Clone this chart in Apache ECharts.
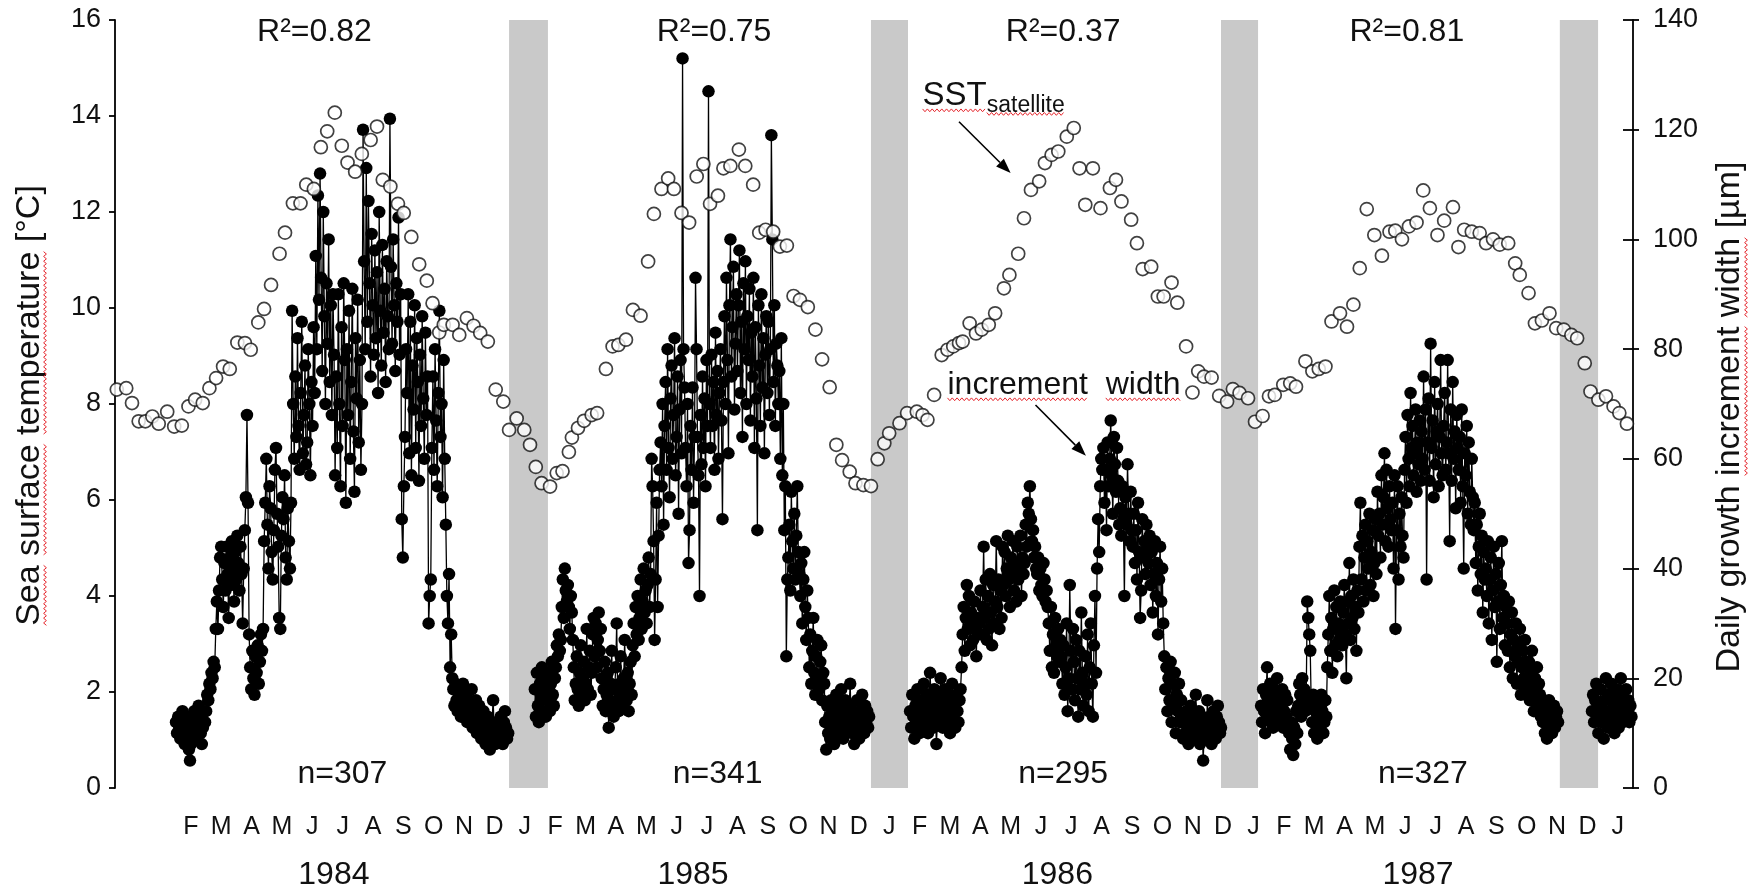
<!DOCTYPE html>
<html><head><meta charset="utf-8">
<script src="https://cdn.jsdelivr.net/npm/echarts@6/dist/echarts.min.js"></script>
<style>html,body{margin:0;padding:0;background:#fff}#c{width:1758px;height:894px}</style>
</head><body><div id="c"></div>
<script>
// ---------- DATA ----------
const monthLetters = ['J','F','M','A','M','J','J','A','S','O','N','D'];
const yearLabels = ['1984','1985','1986','1987'];
const yearCenters = [5.71, 17.54, 29.54, 41.42];          // months since Jan 1984
const r2Labels = ['R²=0.82','R²=0.75','R²=0.37','R²=0.81'];
const r2Centers = [5.07, 18.23, 29.73, 41.05];
const nLabels = ['n=307','n=341','n=295','n=327'];
const nCenters = [5.99, 18.35, 29.73, 41.58];
const bandRanges = [[11.48,12.76],[23.40,24.62],[34.93,36.15],[46.09,47.35]];

// satellite SST (°C) — time in months since 1 Jan 1984
const sstTime = [-1.44,-1.13,-0.94,-0.72,-0.50,-0.27,-0.06,0.22,0.45,0.70,0.92,1.14,1.39,1.61,1.83,2.06,2.28,2.53,2.78,2.97,3.22,3.41,3.64,3.92,4.10,4.36,4.61,4.80,5.05,5.28,5.49,5.74,5.97,6.16,6.41,6.63,6.92,7.13,7.32,7.57,7.82,8.01,8.26,8.52,8.77,8.96,9.18,9.33,9.62,9.84,10.09,10.31,10.53,10.78,11.04,11.29,11.48,11.73,11.98,12.17,
12.36,12.55,12.83,13.05,13.24,13.45,13.55,13.75,13.95,14.20,14.38,14.67,14.89,15.08,15.33,15.56,15.81,16.06,16.25,16.50,16.72,16.91,17.16,17.41,17.66,17.88,18.10,18.36,18.54,18.77,19.05,19.26,19.52,19.72,19.93,20.18,20.40,20.63,20.85,21.06,21.32,21.57,21.79,22.04,22.26,22.45,22.70,22.89,23.15,23.40,23.62,23.84,
24.00,24.34,24.59,24.91,25.10,25.26,25.48,25.73,25.92,26.11,26.30,26.42,26.65,26.86,27.05,27.28,27.49,27.78,27.96,28.25,28.44,28.67,28.94,29.13,29.35,29.57,29.85,30.08,30.27,30.46,30.71,30.96,31.27,31.47,31.65,31.97,32.16,32.35,32.63,32.85,33.04,33.30,33.49,33.78,33.99,34.18,34.37,34.62,34.87,35.13,35.32,35.54,35.82,
36.05,36.30,36.51,36.70,36.98,37.21,37.40,37.71,37.94,38.15,38.37,38.57,38.85,39.08,39.29,39.50,39.73,39.98,40.23,40.48,40.67,40.89,41.12,41.37,41.59,41.81,42.06,42.28,42.57,42.75,42.94,43.19,43.45,43.66,43.89,44.11,44.39,44.62,44.77,45.06,45.27,45.50,45.75,45.97,46.22,46.47,46.66,46.91,47.10,47.36,47.61,47.86,48.05,48.30];
const sstTemp = [8.30,8.33,8.02,7.64,7.64,7.74,7.59,7.84,7.53,7.55,7.95,8.09,8.02,8.33,8.54,8.78,8.73,9.28,9.27,9.13,9.70,9.98,10.48,11.13,11.57,12.18,12.18,12.57,12.48,13.35,13.68,14.07,13.38,13.03,12.84,13.21,13.50,13.78,12.67,12.53,12.17,11.98,11.48,10.91,10.57,10.10,9.49,9.65,9.65,9.44,9.79,9.63,9.48,9.30,8.30,8.05,7.46,7.70,7.46,7.15,
6.69,6.35,6.28,6.56,6.60,7.00,7.30,7.50,7.65,7.77,7.81,8.73,9.20,9.23,9.34,9.96,9.84,10.97,11.96,12.48,12.70,12.48,11.98,11.78,12.74,13.00,12.17,12.34,12.91,12.96,13.30,12.96,12.57,11.57,11.63,11.59,11.28,11.30,10.25,10.17,10.02,9.55,8.93,8.35,7.15,6.83,6.59,6.35,6.31,6.29,6.85,7.18,
7.39,7.60,7.81,7.84,7.77,7.67,8.19,9.02,9.13,9.20,9.27,9.30,9.68,9.47,9.55,9.65,9.89,10.41,10.69,11.13,11.87,12.46,12.64,13.02,13.19,13.26,13.57,13.75,12.91,12.15,12.91,12.08,12.50,12.67,12.22,11.84,11.35,10.81,10.86,10.24,10.24,10.53,10.11,9.20,8.24,8.68,8.57,8.55,8.17,8.05,8.31,8.23,8.12,
7.63,7.75,8.16,8.19,8.40,8.43,8.36,8.89,8.68,8.73,8.78,9.72,9.89,9.61,10.07,10.83,12.06,11.52,11.09,11.59,11.61,11.43,11.70,11.78,12.45,12.08,11.52,11.82,12.10,11.27,11.63,11.59,11.56,11.35,11.43,11.32,11.35,10.93,10.69,10.31,9.68,9.74,9.89,9.58,9.55,9.44,9.37,8.85,8.26,8.09,8.16,7.95,7.81,7.59];

// daily growth increment widths (µm), one segment per shell growth year
const incrSpans = [[0.51,11.45],[12.33,23.34],[24.69,34.93],[36.25,46.03],[47.15,48.45]];
const incr1984 = [12,10,13,11,9,12,14,10,8,11,13,9,7,5,8,10,12,14,11,9,13,15,12,10,8,11,14,12,
14,17,16,19,18,21,20,23,22,
29,34,29,36,42,44,
38,33,41,36,44,39,31,42,37,45,40,34,43,38,46,41,36,44,39,30,40,
47,53,68,52,
28,22,18,25,20,17,24,21,26,19,23,28,25,29,
45,52,60,48,40,55,51,43,38,47,58,62,50,44,31,29,46,53,49,57,42,38,51,45,40,52,
87,
70,60,75,64,82,66,58,72,85,61,68,77,59,63,80,70,57,74,66,
84,72,97,80,108,89,112,93,76,105,86,70,92,81,100,74,88,68,90,79,
57,75,62,90,70,55,84,66,92,78,52,80,68,87,60,74,91,65,54,82,71,89,63,78,58,70,
120,
96,80,113,85,107,92,75,101,88,79,98,82,94,72,105,87,77,99,83,91,74,96,86,80,
122,
95,81,100,88,76,92,85,104,79,90,
49,42,55,
64,80,72,90,61,85,57,77,69,88,62,82,74,56,79,66,86,71,60,83,68,75,
30,35,38,
62,75,58,80,67,55,72,87,64,70,53,78,60,
48,35,30,39,22,28,20,
18,15,19,16,14,18,17,13,16,19,15,
14,17,12,16,13,15,18,11,14,12,16,10,13,15,11,9,12,14,10,8,11,13,9,7,10,12,16,11,8,10,12,9,11,13,10,8,12,14,11,9,10];
const incr1985 = [18,13,21,15,12,19,16,22,14,17,20,13,16,21,18,14,19,23,17,15,20,
22,26,24,28,25,27,
33,38,31,40,36,34,37,33,29,35,32,27,
22,16,19,24,18,15,21,26,17,20,23,16,19,29,18,22,25,17,21,
28,31,24,30,22,27,32,25,29,
20,15,18,23,14,17,21,11,16,19,25,15,13,18,22,30,16,14,19,24,17,15,20,27,18,16,21,14,19,23,17,
26,30,24,33,28,35,27,31,38,29,34,40,32,36,30,37,42,33,39,
60,55,45,27,38,52,33,46,58,
63,55,70,48,66,74,58,80,62,53,71,77,60,68,82,57,64,75,50,69,78,61,
133,80,73,
62,55,70,41,47,66,58,73,52,64,
93,80,
64,57,35,68,59,75,62,71,55,78,66,
127,
70,62,79,66,74,58,83,68,76,60,72,80,67,
49,74,86,70,93,78,61,88,100,75,84,95,69,81,90,
76,88,98,72,85,64,92,80,96,70,86,78,91,67,83,
75,93,62,84,71,47,88,77,66,90,73,82,61,79,86,
72,85,68,80,119,100,74,88,66,81,77,70,
76,60,82,57,70,47,55,24,38,
42,48,36,54,45,40,50,38,46,55,43,39,
35,41,30,38,43,33,27,36,31,
22,28,19,25,31,21,17,24,27,20,18,23,26,16,21,19,
12,7,15,10,13,9,16,11,14,8,12,17,10,13,15,11,18,14,9,12,16,10,13,11,15,19,12,10,14,8,11,13,16,12,9,14,11,17,13,10,15,12,14,11,13];
const incr1986 = [14,11,17,13,9,15,12,18,14,10,16,13,11,19,15,12,17,10,14,21,16,13,11,18,15,8,12,17,14,20,16,11,13,18,15,12,17,14,10,16,19,13,15,11,17,14,12,16,18,
22,28,33,25,31,37,29,35,26,32,30,27,34,29,24,31,28,
30,36,28,33,44,31,38,27,35,29,39,32,26,37,30,34,45,33,38,29,36,31,44,
37,43,35,40,46,38,33,42,39,45,36,41,34,44,38,40,46,35,42,39,
41,48,44,52,50,55,49,45,47,42,44,40,
39,42,36,40,37,35,41,38,34,36,33,
30,25,33,22,28,21,31,26,24,29,23,27,
24,19,26,17,22,30,14,20,37,25,18,29,
23,16,27,20,13,25,18,32,21,15,19,
24,17,28,14,22,30,19,13,26,35,21,40,
49,43,55,60,58,62,
52,58,47,63,55,60,67,57,50,64,59,54,62,56,48,
51,46,55,49,35,53,48,59,50,45,54,47,
44,50,41,47,38,52,43,31,36,49,42,45,39,48,44,
41,46,37,43,32,39,45,35,41,28,38,44,34,40,30,
24,18,22,14,20,16,23,12,19,15,21,10,17,14,19,12,16,
12,9,13,10,14,11,8,12,15,10,13,9,11,17,12,10,14,8,11,13,5,10,12,9,16,11,13,10,8,12,14,11,9,13,15,12,10,11];
const incr1987 = [15,12,18,14,10,17,22,13,16,19,12,15,11,18,14,17,20,13,16,12,15,18,11,14,17,13,16,12,
10,7,12,9,6,11,8,14,10,
15,19,17,13,20,16,18,14,17,
34,31,28,25,
15,12,17,10,14,16,9,13,15,11,17,14,10,12,16,13,
22,28,35,25,31,21,29,36,26,33,24,30,27,34,29,
26,32,37,28,20,34,30,41,27,35,31,38,29,33,25,36,32,
44,52,38,46,34,42,48,36,45,40,50,37,43,47,35,41,49,39,
54,46,50,42,57,48,53,61,45,58,51,44,55,49,47,
52,40,57,29,47,55,38,50,44,53,46,42,
58,64,52,68,60,55,72,62,66,57,61,69,54,63,59,67,56,65,
60,75,58,69,38,63,71,56,81,62,67,53,74,59,65,70,55,64,78,61,57,
66,72,58,63,78,61,45,69,56,74,60,65,51,68,62,
58,64,52,69,55,40,61,57,66,50,63,54,48,60,53,
47,52,41,48,36,44,50,39,46,32,43,38,
40,35,45,30,38,42,27,36,44,33,39,23,34,41,29,37,45,31,35,26,33,
30,25,34,22,28,32,20,27,24,30,19,26,23,29,17,22,25,20,27,18,23,
19,23,16,21,25,17,14,20,18,22,15,19,17,13,16,
12,15,10,14,9,13,16,11,14,10,12,15,11,13,14,12];
const incr1988 = [14,17,12,16,19,13,10,15,18,12,14,9,16,20,13,11,17,14,19,12,15,10,13,18,16,11,14,20,17,12,15,13,18,14,16,12,15,13];
const incrSegments = [incr1984, incr1985, incr1986, incr1987, incr1988];

// annotation anchors (months, °C)
const annSST = [25.10, 14.41], annSat = 14.21, annIncr = [25.92, 8.39];
const arrowSST = [[26.30,13.88],[28.00,12.81]];
const arrowIncr = [[28.82,7.98],[30.48,6.92]];

// ---------- CHART ----------
const FONT = "'Liberation Sans', Arial, Helvetica, sans-serif";
const INK = '#111';
const chart = echarts.init(document.getElementById('c'), null, {renderer: 'canvas'});

function segData(vals, span) {
  const n = vals.length;
  return vals.map((v, i) => [span[0] + i * (span[1] - span[0]) / (n - 1), v]);
}

const incrSeries = incrSegments.map((vals, k) => ({
  type: 'line', yAxisIndex: 1, z: 3,
  data: segData(vals, incrSpans[k]),
  symbol: 'circle', symbolSize: 12.5, showAllSymbol: true,
  lineStyle: {color: '#000', width: 1.3},
  itemStyle: {color: '#000'},
  animation: false, silent: true
}));

const option = {
  animation: false,
  grid: {left: 115, right: 125, top: 20, bottom: 106, containLabel: false},
  xAxis: {
    type: 'value', min: -1.5, max: 48.5, interval: 0.5,
    axisLine: {show: false, onZero: false}, axisTick: {show: false}, splitLine: {show: false},
    axisLabel: {
      margin: 27, fontSize: 25, color: INK, fontFamily: FONT,
      formatter: function (v) {
        const r = Math.round(v);
        if (Math.abs(v - r) > 1e-6 || r < 1 || r > 48) return '';
        return monthLetters[((r % 12) + 12) % 12];
      }
    }
  },
  yAxis: [
    {type: 'value', position: 'left', min: 0, max: 16, interval: 2,
     axisLine: {show: true, onZero: false, lineStyle: {color: '#000', width: 1.8}},
     axisTick: {show: true, length: 6, lineStyle: {color: '#000', width: 1.8}},
     axisLabel: {margin: 14, fontSize: 27, color: INK, fontFamily: FONT},
     splitLine: {show: false}},
    {type: 'value', position: 'right', min: 0, max: 140, interval: 20,
     axisLine: {show: true, onZero: false, lineStyle: {color: '#000', width: 1.8}},
     axisTick: {show: true, length: 6, lineStyle: {color: '#000', width: 1.8}},
     axisLabel: {margin: 20, fontSize: 27, color: INK, fontFamily: FONT},
     splitLine: {show: false}},
    {type: 'value', position: 'right', min: 0, max: 140, interval: 20,
     axisLine: {show: false, onZero: false},
     axisTick: {show: true, inside: true, length: 10, lineStyle: {color: '#000', width: 1.8}},
     axisLabel: {show: false}, splitLine: {show: false}}
  ],
  series: [
    {type: 'line', data: [], z: 1, silent: true,
     markArea: {silent: true, itemStyle: {color: '#c9c9c9'},
       data: bandRanges.map(b => [{xAxis: b[0], yAxis: 0}, {xAxis: b[1], yAxis: 16}])}},
    ...incrSeries,
    {type: 'scatter', yAxisIndex: 0, z: 4, silent: true,
     data: sstTime.map((t, i) => [t, sstTemp[i]]),
     symbol: 'circle', symbolSize: 13,
     itemStyle: {color: '#fff', borderColor: '#111', borderWidth: 1.7}}
  ]
};
chart.setOption(option);

// ---------- ANNOTATIONS ----------
const mctx = document.createElement('canvas').getContext('2d');
function tw(str, size) { mctx.font = size + 'px ' + FONT; return mctx.measureText(str).width; }
function P(x, y) { return chart.convertToPixel({xAxisIndex: 0, yAxisIndex: 0}, [x, y]); }
const RED = '#e5262d';
function zigH(x0, x1, y) {
  const pts = []; let up = true;
  for (let x = x0; x <= x1; x += 2.4) { pts.push([x, y + (up ? -1.4 : 1.4)]); up = !up; }
  return {type: 'polyline', shape: {points: pts}, style: {stroke: RED, lineWidth: 1, fill: null}, silent: true, z: 20};
}
function zigV(y0, y1, x) {
  const pts = []; let up = true;
  for (let y = y0; y <= y1; y += 2.4) { pts.push([x + (up ? -1.4 : 1.4), y]); up = !up; }
  return {type: 'polyline', shape: {points: pts}, style: {stroke: RED, lineWidth: 1, fill: null}, silent: true, z: 20};
}
function txt(str, x, y, size, align, rot) {
  return {type: 'text', x: x, y: y, rotation: rot || 0, z: 20, silent: true,
    style: {text: str, fontSize: size, fontFamily: FONT, fill: INK, align: align || 'center', verticalAlign: 'middle'}};
}
function arrow(a, b) {
  const p = P(a[0], a[1]), q = P(b[0], b[1]);
  const dx = q[0] - p[0], dy = q[1] - p[1], L = Math.hypot(dx, dy);
  const ux = dx / L, uy = dy / L, hl = 15, hw = 5.5;
  const bx = q[0] - ux * hl, by = q[1] - uy * hl;
  return [
    {type: 'line', shape: {x1: p[0], y1: p[1], x2: bx, y2: by}, style: {stroke: '#000', lineWidth: 1.6}, z: 20, silent: true},
    {type: 'polygon', shape: {points: [[q[0], q[1]], [bx - uy * hw, by + ux * hw], [bx + uy * hw, by - ux * hw]]},
     style: {fill: '#000'}, z: 20, silent: true}
  ];
}
// rotated title with spell-check squiggles under chosen words
function vTitle(words, marked, cx, cy, size, sq) {
  const full = words.join(' ');
  const L = tw(full, size);
  const els = [txt(full, cx, cy, size, 'center', Math.PI / 2)];
  const yBottom = cy + L / 2;
  words.forEach((w, k) => {
    if (!marked[k]) return;
    const off = k === 0 ? 0 : tw(words.slice(0, k).join(' ') + ' ', size);
    const ww = tw(w, size);
    els.push(zigV(yBottom - off - ww, yBottom - off, cx + sq));
  });
  return els;
}

function buildGraphics() {
  const g = [];
  const axL = P(-1.5, 0)[0], axR = P(48.5, 0)[0];
  const midY = P(0, 8)[1];
  g.push(...vTitle(['Sea', 'surface', 'temperature', '[°C]'], [1, 1, 1, 0], axL - 85, midY + 1.5, 34, 15));
  g.push(...vTitle(['Daily', 'growth', 'increment', 'width', '[µm]'], [0, 0, 1, 1, 0], axR + 97, midY + 13, 34, 16));
  r2Labels.forEach((s, i) => { const p = P(r2Centers[i], 15.74); g.push(txt(s, p[0], p[1], 32)); });
  nLabels.forEach((s, i) => { const p = P(nCenters[i], 0.29); g.push(txt(s, p[0], p[1], 32)); });
  yearLabels.forEach((s, i) => { const p = P(yearCenters[i], -1.81); g.push(txt(s, p[0], p[1], 32)); });
  // SST satellite label
  const ps = P(annSST[0], annSST[1]);
  const wS = tw('SST', 33);
  g.push(txt('SST', ps[0], ps[1], 33, 'left'));
  g.push(zigH(ps[0], ps[0] + wS, ps[1] + 14));
  const pSat = P(annSST[0], annSat);
  const wSat = tw('satellite', 23);
  g.push(txt('satellite', ps[0] + wS, pSat[1], 23, 'left'));
  g.push(zigH(ps[0] + wS, ps[0] + wS + wSat, pSat[1] + 8));
  // increment width label
  const pi = P(annIncr[0], annIncr[1]);
  const s1 = 'increment', s2 = 'width', gap = tw('  ', 32);
  g.push(txt(s1 + '  ' + s2, pi[0], pi[1], 32, 'left'));
  g.push(zigH(pi[0], pi[0] + tw(s1, 32), pi[1] + 14));
  g.push(zigH(pi[0] + tw(s1, 32) + gap, pi[0] + tw(s1, 32) + gap + tw(s2, 32), pi[1] + 14));
  g.push(...arrow(arrowSST[0], arrowSST[1]));
  g.push(...arrow(arrowIncr[0], arrowIncr[1]));
  return g;
}
chart.setOption({graphic: buildGraphics()});
</script></body></html>
